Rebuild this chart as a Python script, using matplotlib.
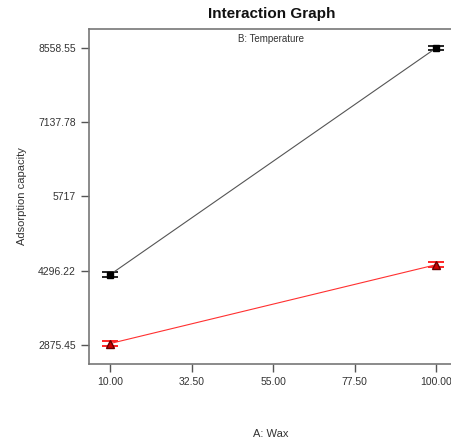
import numpy as np
import matplotlib.pyplot as plt

plt.rcParams['font.family'] = ['Liberation Sans', 'DejaVu Sans']

# A: Wax levels
wax = np.array([10.0, 100.0])
# Adsorption capacity at low / high temperature
temp_low = np.array([4220.0, 8560.0])
temp_high = np.array([2900.0, 4410.0])
lsd_low = np.array([45.0, 45.0])
lsd_high = np.array([45.0, 45.0])

xticks = [10.00, 32.50, 55.00, 77.50, 100.00]
xtick_labels = ['10.00', '32.50', '55.00', '77.50', '100.00']
yticks = [2875.45, 4296.22, 5717.0, 7137.78, 8558.55]
ytick_labels = ['2875.45', '4296.22', '5717', '7137.78', '8558.55']

fig = plt.figure(figsize=(4.52, 4.41), dpi=100)
ax = fig.add_axes([0.197, 0.175, 0.803, 0.759])

ax.errorbar(wax, temp_low, yerr=lsd_low, color='#555555', lw=0.8,
            marker='s', ms=5, mfc='black', mec='black', ecolor='black',
            elinewidth=0.8, capsize=6, capthick=1.2)
ax.errorbar(wax, temp_high, yerr=lsd_high, color='#ff3030', lw=0.8,
            marker='^', ms=6, mfc='#cc0000', mec='#660000', ecolor='#ff0000',
            elinewidth=0.8, capsize=6, capthick=1.2)

ax.set_xlim(4.2, 104.4)
ax.set_ylim(2512, 8922)
ax.set_xticks(xticks)
ax.set_xticklabels(xtick_labels)
ax.set_yticks(yticks)
ax.set_yticklabels(ytick_labels)

for s in ['left', 'bottom', 'top']:
    ax.spines[s].set_color('#777777')
    ax.spines[s].set_linewidth(1.2)
ax.spines['right'].set_visible(False)
ax.tick_params(direction='out', length=6, width=1, color='#555555',
               labelsize=7.5, labelcolor='#333333')

ax.set_xlabel('A: Wax', fontsize=8, color='#333333', labelpad=30)
ax.set_ylabel('Adsorption capacity', fontsize=8, color='#333333', labelpad=8)
ax.text(0.5, 0.985, 'B: Temperature', transform=ax.transAxes, ha='center',
        va='top', fontsize=7, color='#333333')
fig.text(0.602, 0.968, 'Interaction Graph', ha='center', va='center',
         fontsize=11, fontweight='bold', color='#111111')

fig.savefig('out.png', dpi=100)
